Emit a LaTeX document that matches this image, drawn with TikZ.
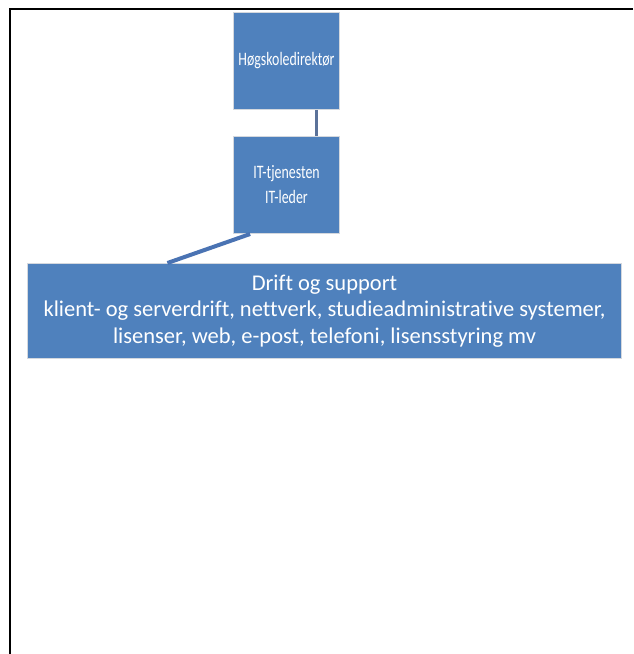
\documentclass[tikz,border=0pt]{standalone}
\usepackage{fontspec}
\setmainfont[Ligatures=CommonOff]{Carlito}
\newfontfamily\narrowcarlito[FakeStretch=0.73,Ligatures=CommonOff]{Carlito}
\usetikzlibrary{calc}
\definecolor{boxblue}{HTML}{4F81BD}
\definecolor{boxedge}{HTML}{D4D8DE}
\definecolor{linkgrey}{HTML}{5B7299}
\definecolor{linkblue}{HTML}{4A73B3}
\begin{document}
\begin{tikzpicture}[x=1pt,y=-1pt,
  orgbox/.style={rectangle, fill=boxblue, draw=boxedge, line width=1pt,
    text=white, align=center, inner sep=0pt, anchor=north west},
  smalltext/.style={font=\narrowcarlito\fontsize{19}{25}\selectfont},
  bigtext/.style={font=\fontsize{22.5}{26.5}\selectfont},
  frameline/.style={line width=2.5pt, black},
  vlink/.style={line width=3pt, linkgrey},
  dlink/.style={line width=4pt, linkblue}]
  \useasboundingbox (0,0) rectangle (633,654);

  % page frame: top and left edges
  \coordinate (ftl) at (10,9);
  \coordinate (ftr) at (633,9);
  \coordinate (fbl) at (10,654);
  \draw[frameline] (ftr) -- (ftl) -- (fbl);

  % boxes
  \node[orgbox, smalltext, minimum width=106pt, minimum height=97pt] (dir) at (233,12) {Høgskoledirektør};
  \node[orgbox, smalltext, minimum width=106pt, minimum height=97pt] (it) at (233,136) {IT-tjenesten\\IT-leder};
  \node[orgbox, bigtext, minimum width=594pt, minimum height=95pt] (drift) at (27,263)
    {Drift og support\\klient- og serverdrift, nettverk, studieadministrative systemer,\\lisenser, web, e-post, telefoni, lisensstyring mv};

  % connectors
  \draw[vlink] ($(dir.south west)!0.78!(dir.south east)$) -- ($(it.north west)!0.78!(it.north east)$);
  \draw[dlink] ($(it.south west)!0.16!(it.south east)$) -- ($(drift.north west)!0.236!(drift.north east)$);
\end{tikzpicture}
\end{document}
